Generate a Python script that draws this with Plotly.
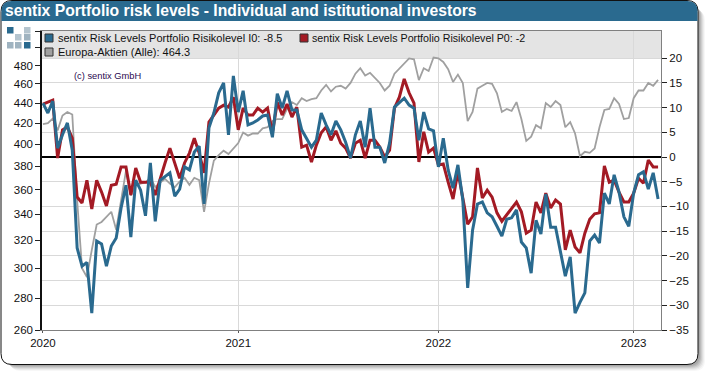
import plotly.graph_objects as go

W, H = 710, 376
L, R, T, B = 42, 661, 31, 330

positions = list(range(127))
year_positions = [0, 40, 81, 121]
year_labels = ["2020", "2021", "2022", "2023"]

left_ticks = [260, 280, 300, 320, 340, 360, 380, 400, 420, 440, 460, 480, 500, 520]
left_labels = ["260", "280", "300", "320", "340", "360", "380", "400", "420", "440", "460", "480", "", ""]
right_ticks = [-35, -30, -25, -20, -15, -10, -5, 0, 5, 10, 15, 20]

individual = [10.9, 8.9, 11.3, 1.8, 4.5, 6.9, 1.4, -18.4, -22.1, -21.3, -31.6, -17, -17.6, -22.1, -18, -16.4,
              -10.3, -5.7, -16.2, -4.7, -6.7, -11.9, -1.2, -13, -4.7, -4, -3.2, -7.9, -6.5, -2, -2.6, 1, 2.2, -9.5,
              5.9, 8.9, 13, 15, 4.5, 16.4, 9.1, 13.4, 6.5, 6.9, 7.5, 8.3, 8.5, 4, 12.8, 9.9, 13.4, 9.5, 9.5, 5.5,
              3.8, 2, 3.4, 8.9, 6.5, 4.5, 7.3, 5.5, 3, -0.2, 4.5, 7.3, 2, 9.9, 2, 2, -1.2, 2.8, 10.1, 11.1, 11.9,
              10.5, 9.9, 3.4, 9.1, 5.7, 5.3, -2, 3.8, -2.6, -6.3, -1.6, -8.7, -26.5, -14.8, -9.5, -9.1, -11.3,
              -12.1, -14, -16, -12.6, -12.3, -10.7, -17.2, -18.4, -23.5, -12.8, -15.6, -7.5, -14.2, -14.2, -19.2,
              -24.1, -20.2, -31.6, -29.4, -27.5, -17, -15.8, -17.4, -7.3, -9.5, -3.6, -7.1, -12.1, -14, -7.3, -3.6,
              -3, -6.5, -3.2, -8.5]

institutional = [10.7, 11.1, 11.5, -0.2, 5.5, 6.1, 3.8, -8.1, -9.3, -4.7, -10.5, -4.7, -7.1, -9.9, -5.7, -5.5,
                 -2, -2, -7.7, -2.2, -5.1, -5.1, -5.1, -7.7, -4.3, -1.2, 1.8, -1.2, -4.3, -1.2, 0.8, 3.8, 0.8, -3.2,
                 7.1, 8.5, 9.9, 10.5, 10.1, 12.1, 5.5, 9.9, 8.5, 8.5, 9.9, 9.1, 9.9, 4.9, 11.1, 8.5, 10.7, 8.1, 10.1,
                 2, 2.4, -1, 2.4, 4.9, 6.1, 3.4, 5.3, 2.8, 1.8, -0.2, 2.8, 3.4, -0.2, 3.4, 3.4, 2, 0, 1.4, 9.9, 12.1,
                 15.8, 13, 10.9, -1, 5.1, 1, 1.8, -1.6, -1.4, -5.1, -8.5, -3, -8.1, -13.6, -12.1, -2.2, -8.3, -6.7,
                 -8.1, -11.3, -13, -11.7, -10.3, -9.1, -11.1, -15.4, -14.8, -9.1, -11.3, -7.3, -10.3, -8.7, -9.5,
                 -18.8, -14.8, -18.2, -19.4, -15.4, -12.6, -11.5, -11.3, -1.8, -5.1, -4.7, -7.1, -9.1, -9.1, -7.3,
                 -4.3, -5.3, -0.6, -2, -2]

europe = [419, 420, 424.5, 413, 427.5, 431, 428.5, 351, 300, 294, 313, 332, 334, 338, 342, 328, 353, 376, 355, 364,
          365, 366, 370, 362, 366, 369, 365, 362, 367, 370, 364, 370, 368, 342, 365, 385, 390, 394, 391, 396, 401,
          411, 408, 410, 410, 415, 416, 422, 424, 424, 434, 441, 438, 445, 442, 444, 445, 453, 459, 452, 457, 458,
          455, 461, 471, 477, 469, 472, 467, 461, 453, 458, 471, 477, 483, 488, 487, 464, 477, 474, 489, 488, 484,
          476, 462, 470, 461, 422, 431, 455, 458, 461, 460, 450, 431, 434, 432, 441, 424, 403, 407, 418, 415, 440,
          436, 442, 438, 416, 421, 410, 389, 393, 392, 396, 416, 433, 434, 445, 439, 424, 425, 445, 453, 453, 461,
          458, 464.3]

assert len(individual) == len(institutional) == len(europe) == len(positions)

BLUE = "#2a6a8f"
RED = "#a31a24"
GREY = "#a0a0a0"
FONT = "Liberation Sans"


def fx(px):
    return (px - L) / (R - L)


def fy(py):
    return (B - py) / (B - T)


def rounded(x0, y0, x1, y1, r, top_only=False):
    p = [f"M {fx(x0)} {fy(y0 + r)}", f"Q {fx(x0)} {fy(y0)} {fx(x0 + r)} {fy(y0)}",
         f"L {fx(x1 - r)} {fy(y0)}", f"Q {fx(x1)} {fy(y0)} {fx(x1)} {fy(y0 + r)}"]
    if top_only:
        p += [f"L {fx(x1)} {fy(y1)}", f"L {fx(x0)} {fy(y1)}", "Z"]
    else:
        p += [f"L {fx(x1)} {fy(y1 - r)}", f"Q {fx(x1)} {fy(y1)} {fx(x1 - r)} {fy(y1)}",
              f"L {fx(x0 + r)} {fy(y1)}", f"Q {fx(x0)} {fy(y1)} {fx(x0)} {fy(y1 - r)}", "Z"]
    return " ".join(p)


def box(px0, py0, px1, py1, fill, line=None):
    return dict(type="rect", xref="paper", yref="paper", layer="below",
                x0=fx(px0), x1=fx(px1), y0=fy(py0), y1=fy(py1), fillcolor=fill,
                line=dict(color=line or fill, width=1 if line else 0))


shapes = []
for off, alpha in [(8, 0.04), (7, 0.06), (6, 0.08), (5, 0.10), (4, 0.12), (3, 0.14)]:
    shapes.append(dict(type="path", xref="paper", yref="paper", layer="below",
                       path=rounded(2 + off, 2 + off, 698 + off - 1, 364 + off - 1, 11),
                       fillcolor=f"rgba(60,60,60,{alpha})", line=dict(width=0)))
shapes.append(dict(type="path", xref="paper", yref="paper", layer="below",
                   path=rounded(1, 0.5, 698, 364.5, 11), fillcolor="white", line=dict(color="#111111", width=1)))
shapes.append(dict(type="path", xref="paper", yref="paper", layer="below",
                   path=rounded(1.5, 1, 697.5, 21, 10, top_only=True), fillcolor=BLUE, line=dict(width=0)))
shapes.append(box(L, T, R, 58, "#e4e4e4"))
for x0, y0, col in [(7, 27, BLUE), (24, 27, "#b4c4ce"), (15, 34, "#b4c4ce"), (24, 34, "#9fb3c0"),
                    (7, 42, "#9fb3c0"), (15, 42, "#9fb3c0"), (24, 42, BLUE)]:
    shapes.append(box(x0, y0, x0 + 6.5, y0 + 6.5, col))
for x0, y0, col in [(45, 34, BLUE), (300, 34, RED), (45, 48, GREY)]:
    shapes.append(box(x0, y0, x0 + 8, y0 + 8, col, "#333333"))


def label(px, py, text, size=11, color="#111111"):
    return dict(xref="paper", yref="paper", x=fx(px), y=fy(py), text=text, showarrow=False,
                xanchor="left", yanchor="middle", align="left", borderpad=0,
                font=dict(family=FONT, size=size, color=color))


annotations = [
    label(56.5, 38, "sentix Risk Levels Portfolio Risikolevel I0: -8.5"),
    label(310.5, 38, "sentix Risk Levels Portfolio Risikolevel P0: -2", size=10.7),
    label(56.5, 52, "Europa-Aktien (Alle): 464.3"),
    label(72.5, 75.5, "(c) sentix GmbH", size=9.3, color="#2a0a50"),
]

fig = go.Figure()
fig.add_trace(go.Scatter(x=positions, y=europe, mode="lines", yaxis="y",
                         line=dict(color=GREY, width=1.8), name="Europa-Aktien (Alle)"))
fig.add_trace(go.Scatter(x=positions, y=institutional, mode="lines", yaxis="y2",
                         line=dict(color=RED, width=3), name="sentix Risk Levels Portfolio Risikolevel P0"))
fig.add_trace(go.Scatter(x=positions, y=individual, mode="lines", yaxis="y2",
                         line=dict(color=BLUE, width=3), name="sentix Risk Levels Portfolio Risikolevel I0"))

fig.update_layout(
    width=W, height=H, autosize=False, showlegend=False,
    margin=dict(l=L, r=W - R, t=T, b=H - B, pad=0),
    paper_bgcolor="white", plot_bgcolor="rgba(0,0,0,0)",
    font=dict(family=FONT, size=11.5, color="#111111"),
    title=dict(text="<b>sentix Portfolio risk levels - Individual and istitutional investors</b>",
               x=5 / W, xanchor="left", xref="container", y=1 - 11 / H, yanchor="middle", yref="container",
               font=dict(family=FONT, size=15.7, color="white")),
    xaxis=dict(range=[-0.2, 126.6], tickmode="array", tickvals=year_positions, ticktext=year_labels,
               showgrid=True, gridcolor="#d9d9d9", gridwidth=1.2, zeroline=False,
               showline=True, linecolor="#808080", linewidth=1, mirror=True,
               ticks="outside", ticklen=2, tickcolor="#555555"),
    yaxis=dict(type="log", range=[2.41497, 2.716], tickmode="array", tickvals=left_ticks, ticktext=left_labels,
               showgrid=False, zeroline=False, showline=True, linecolor="#111111", linewidth=1.5,
               ticks="outside", ticklen=5, tickcolor="#222222"),
    yaxis2=dict(overlaying="y", side="right", range=[-35, 25.5], tickmode="array", tickvals=right_ticks,
                showgrid=True, gridcolor="#d9d9d9", gridwidth=1.2,
                zeroline=True, zerolinecolor="#000000", zerolinewidth=2,
                showline=True, linecolor="#808080", linewidth=1,
                ticks="outside", ticklen=5, tickcolor="#222222"),
    shapes=shapes, annotations=annotations,
)

fig.write_html("out.html", config={"displayModeBar": False},
               post_script="document.body.style.margin='0';document.body.style.overflow='hidden';")
